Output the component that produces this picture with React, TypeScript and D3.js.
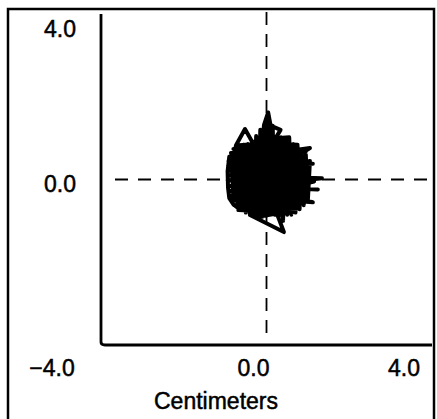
import { useEffect, useRef } from 'react';
import * as d3 from 'd3';

// sway path of the centre of pressure, in centimeters
const swayX = [
  0.05, -0.1, -0.06, 0.04, 0.1, 0.34, 0.22, 0.55, 0.45, 0.75, 0.62, 1.05, 0.8,
  -0.35, -0.52, -0.74,
  0.3, -0.8, 0.95, -0.86, 0.85, -0.9, 0.9, -0.92, 1.12, 0.7, -0.93, 0.82, -0.94,
  0.8, -0.93, 1.34, 0.9, -0.94, 0.85, -0.93, 1.24, 0.75, -0.92, 0.9, -0.9, 1.12,
  0.7, -0.86, 0.8, -0.78, 0.75, -0.68, 0.62, -0.4, 0.42, 0.25, -0.2,
  -0.85, -0.8, -0.75, -0.7, -0.65, -0.6, -0.55, -0.5, -0.45, -0.4, -0.35, -0.3,
  -0.25, -0.2, -0.15, -0.1, -0.05, 0.0, 0.05, 0.1, 0.15, 0.2, 0.25, 0.3, 0.35,
  0.4, 0.45, 0.5, 0.55, 0.6, 0.65, 0.7, 0.75, 0.8, 0.85, 0.9, 0.95, 1.0, 1.05,
  0.5, -0.6, 0.2, 1.0, 0.4, -0.5, 0.15, 0.95, -0.2, 0.6, -0.7, 0.3, -0.3, 0.7,
  0.1, 1.15, 0.55, -0.55,
  -0.9, -0.94, -0.93, -0.9, -0.8, -0.62, 0.0,
];
const swayY = [
  0.05, 0.95, 1.32, 1.62, 1.3, 1.2, 1.0, 1.02, 0.85, 0.84, 0.7, 0.76, 0.6,
  0.92, 1.22, 0.82,
  0.9, 0.74, 0.68, 0.64, 0.58, 0.54, 0.48, 0.44, 0.38, 0.36, 0.33, 0.27, 0.22,
  0.16, 0.1, 0.03, -0.02, -0.02, -0.1, -0.16, -0.24, -0.22, -0.28, -0.34, -0.4, -0.55,
  -0.46, -0.5, -0.58, -0.62, -0.7, -0.74, -0.8, -0.86, -1.27, -0.82, -0.9,
  0.6, -0.45, 0.78, -0.62, 0.8, -0.72, 0.84, -0.8, 0.86, -0.85, 0.9, -0.88,
  1.05, -0.9, 1.2, -0.9, 1.3, -0.88, 1.45, -0.85, 1.3, -0.85, 1.0, -0.9, 1.02,
  -1.0, 1.0, -0.85, 1.0, -0.85, 0.85, -0.8, 0.82, -0.72, 0.72, -0.62, 0.6, -0.5, 0.45,
  0.3, 0.6, -0.5, 0.2, 0.95, -0.3, 0.55, -0.4, 0.1, -0.2, 0.2, -0.7, 0.75, 0.45,
  -0.3, -0.05, 0.2, -0.65,
  0.55, 0.2, -0.2, -0.45, -0.6, -0.74, 0.0,
];

const axisDomain = [-4, 4];
const xTicks = [-4, 0, 4];
const yTicks = [4, 0];
const xTitle = 'Centimeters';

const W = 437;
const H = 419;

const SwayPlot = () => {
  const svgRef = useRef<SVGSVGElement>(null);

  useEffect(() => {
    const svg = d3.select(svgRef.current);
    svg.selectAll('*').remove();

    const left = 101, right = 432, top = 14, bottom = 345;

    const x = d3.scaleLinear().domain(axisDomain).range([left, right]);
    const y = d3.scaleLinear().domain(axisDomain).range([bottom, top]);

    const font = '"Liberation Sans", Arial, Helvetica, sans-serif';

    // outer frame (bottom runs off the page)
    svg.append('path')
      .attr('d', `M8,${H + 5}V9H434V${H + 5}`)
      .attr('fill', 'none')
      .attr('stroke', '#000')
      .attr('stroke-width', 2.5);

    // zero lines
    svg.append('line')
      .attr('x1', x(-4) + 14).attr('x2', x(4))
      .attr('y1', y(0)).attr('y2', y(0))
      .attr('stroke', '#000').attr('stroke-width', 1.8)
      .attr('stroke-dasharray', '13,10');

    svg.append('line')
      .attr('x1', x(0)).attr('x2', x(0))
      .attr('y1', y(4) - 2).attr('y2', y(-4) - 6)
      .attr('stroke', '#000').attr('stroke-width', 1.8)
      .attr('stroke-dasharray', '13,9');

    // L-shaped axes
    svg.append('path')
      .attr('d', `M${x(-4)},${y(4)}V${y(-4) - 3}Q${x(-4)},${y(-4)} ${x(-4) + 4},${y(-4)}H${x(4)}`)
      .attr('fill', 'none')
      .attr('stroke', '#000')
      .attr('stroke-width', 2.8);

    // sway trace
    const pts = swayX.map((v, i) => [v, swayY[i]] as [number, number]);
    const line = d3.line<[number, number]>()
      .x(d => x(d[0]))
      .y(d => y(d[1]));

    svg.append('path')
      .datum(pts)
      .attr('d', line)
      .attr('fill', 'none')
      .attr('stroke', '#000')
      .attr('stroke-width', 4)
      .attr('stroke-linejoin', 'round')
      .attr('stroke-linecap', 'round');

    const label = (sel: d3.Selection<any, any, any, any>) =>
      sel
        .attr('font-family', font)
        .attr('font-size', 23)
        .attr('fill', '#000')
        .attr('stroke', '#000')
        .attr('stroke-width', 0.5)
        .attr('text-anchor', 'middle');

    // tick labels (hand placed in the original figure)
    const xNudge: Record<number, number> = { [-4]: -49, 0: -13, 4: -28 };
    svg.append('g')
      .selectAll('text')
      .data(xTicks)
      .join('text')
        .attr('x', d => x(d) + xNudge[d])
        .attr('y', bottom + 31)
        .call(label)
        .text(d => (d < 0 ? '\u2212' : '') + Math.abs(d).toFixed(1));

    const yNudge: Record<number, number> = { 4: 23, 0: 12.5 };
    svg.append('g')
      .selectAll('text')
      .data(yTicks)
      .join('text')
        .attr('x', 60)
        .attr('y', d => y(d) + yNudge[d])
        .call(label)
        .text(d => d.toFixed(1));

    svg.append('text')
      .attr('x', 216)
      .attr('y', 409)
      .call(label)
      .text(xTitle);
  }, []);

  return (
    <svg
      ref={svgRef}
      width={W}
      height={H}
      style={{ position: 'absolute', left: 0, top: 0, background: '#fff' }}
    />
  );
};

export default function App() {
  return <SwayPlot />;
}
